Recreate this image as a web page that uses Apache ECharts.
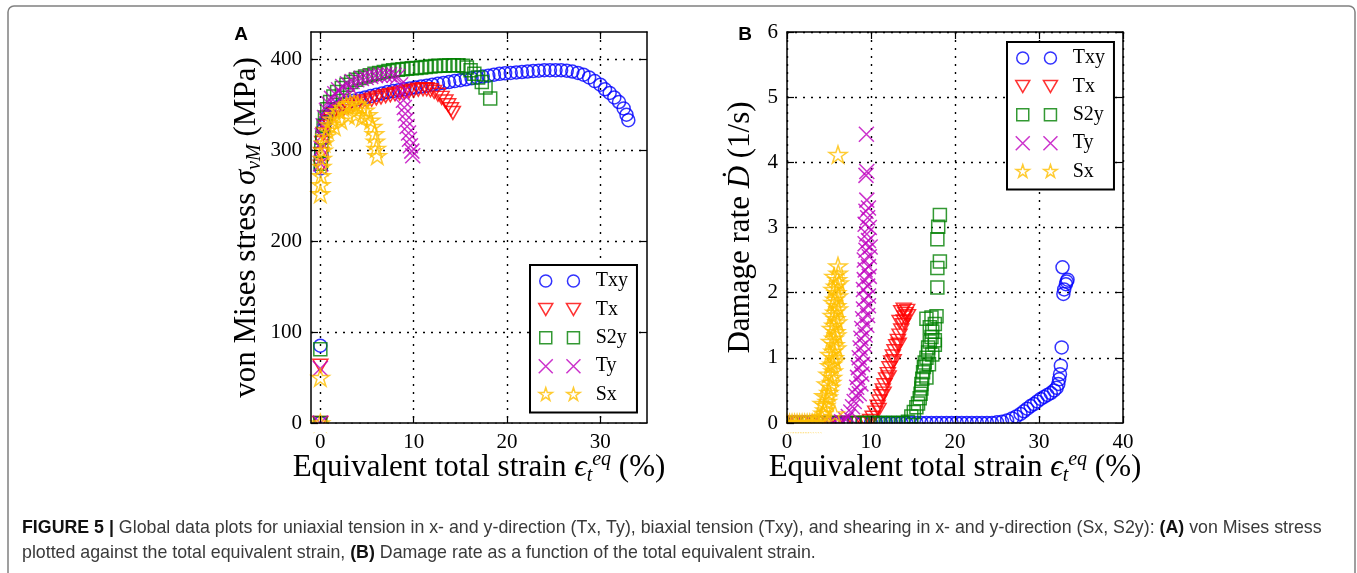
<!DOCTYPE html>
<html>
<head>
<meta charset="utf-8">
<script src="https://cdn.jsdelivr.net/npm/echarts@6.0.0/dist/echarts.min.js"></script>
<style>
  html, body { margin: 0; padding: 0; background: #fff; }
  #fig { width: 1357px; height: 573px; }
</style>
</head>
<body>
<div id="fig"></div>
<script>
var SERIF = '"Liberation Serif", "Times New Roman", serif';
var SANS = '"Liberation Sans", Arial, sans-serif';

// legend order = draw order
var seriesNames = ['Txy', 'Tx', 'S2y', 'Ty', 'Sx'];

// tick labels
var strainTicksA = [0, 10, 20, 30];
var stressTicks = [0, 100, 200, 300, 400];
var strainTicksB = [0, 10, 20, 30, 40];
var rateTicks = [0, 1, 2, 3, 4, 5, 6];

// (A) von Mises stress [strain %, MPa]
var stressTxy = [[0,0],[0,85],[0.05,280],[0.1,298],[0.2,312],[0.35,323],[0.55,331],[0.8,337],[1.1,341],[1.5,345],[2,348],[2.5,350.5],[3,352.5],[3.6,354.5],[4.2,356.5],[4.8,358],[5.4,359.5],[6,361],[6.6,362.5],[7.2,364],[7.8,365],[8.4,366],[9,367],[9.6,368],[10.2,369],[10.8,370],[11.4,371],[12,372],[12.6,373],[13.2,374],[13.8,375],[14.4,376],[15,377],[15.6,378],[16.2,379],[16.8,380],[17.4,381],[18,382],[18.6,383],[19.2,384],[19.8,384.5],[20.4,385],[21,385.5],[21.6,386],[22.2,386.5],[22.8,387],[23.4,387.5],[24,388],[24.6,388],[25.2,388],[25.8,388],[26.4,387.5],[27,386.5],[27.6,385],[28.2,383],[28.8,380],[29.4,376],[30,372],[30.5,367],[31,363],[31.5,358],[32,353],[32.5,346],[32.8,339],[33,333]];
var stressTx = [[0,0],[0,63],[0.05,282],[0.1,296],[0.2,308],[0.35,318],[0.55,326],[0.8,332],[1.1,336],[1.5,340],[2,343],[2.5,345.5],[3,347.5],[3.5,349.5],[4,351],[4.5,352.5],[5,354],[5.5,355.5],[6,357],[6.5,358],[7,359.5],[7.5,360.5],[8,361.5],[8.5,362.5],[9,363.5],[9.5,364.5],[10,365.5],[10.5,366.5],[11,367],[11.4,367],[11.8,366],[12.2,364],[12.6,361],[13,357.5],[13.4,353.5],[13.7,349.5],[14,345],[14.2,341]];
var stressS2y = [[0,0],[0,81],[0.05,285],[0.1,300],[0.2,314],[0.35,327],[0.5,336],[0.75,345],[1.05,353],[1.4,359],[1.8,364],[2.3,368.5],[2.8,372],[3.3,375],[3.8,377.5],[4.3,379.5],[4.8,381],[5.3,382.5],[5.8,384],[6.3,385],[6.8,386],[7.3,387],[7.8,388],[8.3,388.5],[8.8,389],[9.3,389.5],[9.8,390],[10.3,390.5],[10.8,391],[11.3,391.5],[11.8,392],[12.3,392.5],[12.8,393],[13.3,393],[13.8,393.5],[14.3,393.5],[14.8,393.5],[15.3,393],[15.7,391],[16.1,388],[16.5,384],[16.9,380],[17.3,375],[17.7,369],[18.2,357]];
var stressTy = [[0,0],[0,60],[0.05,285],[0.1,302],[0.2,316],[0.3,327],[0.45,336],[0.65,344],[0.9,351],[1.2,357],[1.55,362],[1.95,366.5],[2.4,370],[2.9,373],[3.4,375.5],[3.9,377.5],[4.4,379],[4.9,380],[5.4,381],[5.9,382],[6.4,382.5],[6.9,383],[7.4,383],[7.9,382.5],[8.3,381],[8.6,372],[8.8,363],[8.9,355],[9,347],[9.1,340],[9.2,333],[9.3,326],[9.45,319],[9.55,312],[9.65,305],[9.8,299],[9.9,294],[1.5,350],[2.5,360],[3.5,366]];
var stressSx = [[0,0],[0,50],[0,252],[0.05,262],[0.1,272],[0.15,282],[0.2,291],[0.3,300],[0.4,308],[0.55,315],[0.75,322],[1,328],[1.3,334],[1.6,339],[2,343.5],[2.4,347],[2.8,349.5],[3.2,351],[3.6,351.5],[4,350.5],[4.4,348],[4.8,344],[5.1,339],[5.4,333],[5.6,326],[5.8,318],[5.9,310],[6,302],[6.1,294],[1.5,326],[2.2,333],[3,338],[3.8,339],[4.5,336]];

// (B) damage rate [strain %, 1/s]
var rateTxy = [[0,0],[1,0],[2,0],[3,0],[4,0],[5,0],[6,0],[7,0],[8,0],[9,0],[10,0],[10.6,0],[11.2,0],[11.8,0],[12.4,0],[13,0],[13.6,0],[14.2,0],[14.8,0],[15.4,0],[16,0],[16.6,0],[17.2,0],[17.8,0],[18.4,0],[19,0],[19.6,0],[20.2,0],[20.8,0],[21.4,0],[22,0],[22.6,0],[23.2,0],[23.8,0],[24.4,0],[25,0.01],[25.6,0.02],[26.2,0.04],[26.8,0.07],[27.3,0.1],[27.8,0.14],[28.2,0.18],[28.6,0.22],[29,0.26],[29.4,0.29],[29.8,0.33],[30.2,0.37],[30.6,0.4],[31,0.43],[31.4,0.46],[31.8,0.5],[32.1,0.54],[32.3,0.6],[32.4,0.67],[32.5,0.75],[32.6,0.88],[32.7,1.16],[32.9,1.98],[33,2.05],[33.2,2.13],[33.4,2.2],[33.3,2.17],[32.8,2.39]];
var rateTx = [[0,0],[1,0],[2,0],[3,0],[4,0],[5,0],[6,0],[7,0],[8,0],[9,0],[9.5,0],[9.9,0.03],[10.2,0.08],[10.5,0.16],[10.8,0.25],[11,0.33],[11.2,0.41],[11.4,0.5],[11.6,0.58],[11.8,0.67],[12,0.75],[12.2,0.84],[12.4,0.93],[12.6,1.02],[12.8,1.1],[13,1.18],[13.2,1.26],[13.4,1.34],[13.6,1.42],[13.8,1.5],[13.9,1.56],[14,1.62],[14.1,1.67],[13.6,1.7],[14.3,1.72],[13.9,1.74],[14.4,1.64],[13.4,1.55],[10.9,0.2],[11.5,0.45],[12.1,0.7],[12.7,0.95],[13.3,1.2]];
var rateS2y = [[0,0],[1,0],[2,0],[3,0],[4,0],[5,0],[6,0],[7,0],[8,0],[9,0],[9.6,0],[10.2,0],[10.8,0],[11.4,0],[12,0],[12.6,0],[13.2,0],[13.8,0],[14.4,0.02],[14.8,0.1],[15.1,0.17],[15.4,0.24],[15.6,0.3],[15.8,0.38],[15.9,0.45],[16,0.53],[16,0.6],[16.1,0.68],[16.2,0.78],[16.3,0.86],[16.4,0.93],[16.6,1],[16.8,1.08],[16.8,1.16],[17.6,1.2],[17,1.25],[17.6,1.27],[17.2,1.32],[17.3,1.4],[17,1.47],[17.6,1.52],[16.6,1.6],[17.2,1.62],[17.8,1.64],[16.6,0.7],[16.9,0.9],[17.3,1.05],[17.9,2.08],[17.9,2.38],[18.2,2.48],[17.9,2.82],[18,3.01],[18.2,3.19]];
var rateTy = [[0,0],[1,0],[2,0],[3,0],[4,0],[5,0],[5.5,0],[6,0],[6.5,0.02],[7,0.05],[7.3,0.1],[7.6,0.17],[7.8,0.25],[8,0.33],[8.2,0.42],[8.6,0.45],[8.3,0.55],[8.8,0.6],[8.4,0.7],[8.9,0.75],[8.5,0.85],[9,0.9],[8.6,1],[9.1,1.05],[8.7,1.15],[9.2,1.2],[8.8,1.3],[9.3,1.35],[8.9,1.45],[9.5,1.5],[9,1.6],[9.6,1.65],[9.1,1.75],[9.7,1.8],[9.2,1.9],[9.7,1.95],[9.1,2.05],[9.6,2.1],[9.2,2.2],[9.8,2.25],[9.3,2.35],[9.7,2.4],[9.2,2.5],[9.8,2.55],[9.4,2.65],[9.9,2.7],[9.3,2.75],[9.7,2.8],[9.5,2.9],[9.8,3],[9.3,3.05],[9.6,3.15],[9.4,3.25],[9.7,3.3],[9.5,3.42],[9.4,3.8],[9.5,3.86],[9.45,4.43]];
var rateSx = [[0,0],[0.3,0],[0.6,0],[0.9,0],[1.2,0],[1.5,0],[1.8,0],[2.1,0],[2.4,0],[2.7,0],[3,0],[3.3,0],[3.6,0.02],[3.9,0.06],[4.1,0.1],[4.3,0.15],[4.5,0.2],[4.6,0.27],[4.8,0.33],[4.2,0.3],[4.9,0.4],[4.4,0.42],[5,0.47],[5.2,0.55],[4.7,0.6],[5.3,0.62],[5.4,0.7],[4.9,0.75],[5.5,0.8],[5.1,0.88],[5.4,0.9],[5.7,0.95],[5.6,1],[5.1,1.05],[5.5,1.1],[5.9,1.15],[5.7,1.2],[5.2,1.25],[5.6,1.3],[5.9,1.35],[5.8,1.4],[5.3,1.45],[5.6,1.5],[6,1.55],[5.8,1.6],[5.4,1.65],[5.7,1.7],[6.1,1.75],[5.9,1.8],[5.5,1.85],[5.7,1.9],[6.1,1.95],[5.9,2],[5.5,2.05],[5.8,2.1],[6.2,2.15],[6,2.2],[5.6,2.25],[6.1,2.3],[6.07,2.41],[5.7,0.14],[6.07,4.12]];

var stressData = [stressTxy, stressTx, stressS2y, stressTy, stressSx];
var rateData = [rateTxy, rateTx, rateS2y, rateTy, rateSx];

// marker look (matplotlib o v s x *)
var colors = ['#0000ff', '#ff0000', '#008000', '#bf00bf', '#ffbf00'];
var symbols = [
    'circle',
    'path://M0,0L10,0L5,8.66Z',
    'rect',
    'path://M0,0L10,10M10,0L0,10',
    'path://M10,0L12.245,6.91L19.511,6.91L13.633,11.18L15.878,18.09L10,13.82L4.122,18.09L6.367,11.18L0.489,6.91L7.755,6.91Z'
];
var symbolSizes = [13, [15, 13], 13, 15, [18, 17]];
// two markers per legend row, extra moveTo keeps space before the text
var legendIcons = [
    'path://M0,0M1,7A6,6,0,1,1,13,7A6,6,0,1,1,1,7ZM28.7,7A6,6,0,1,1,40.7,7A6,6,0,1,1,28.7,7ZM52,14',
    'path://M0,0M0,1L14,1L7,13ZM27.7,1L41.7,1L34.7,13ZM52,14',
    'path://M0,0M1,1L13,1L13,13L1,13ZM28.7,1L40.7,1L40.7,13L28.7,13ZM52,14',
    'path://M0,0L14,14M14,0L0,14M27.7,0L41.7,14M41.7,0L27.7,14M52,14',
    'path://M0,0M7,0L8.57,4.84L13.66,4.84L9.54,7.83L11.11,12.66L7,9.67L2.89,12.66L4.46,7.83L0.34,4.84L5.43,4.84ZM34.7,0L36.27,4.84L41.36,4.84L37.24,7.83L38.81,12.66L34.7,9.67L30.59,12.66L32.16,7.83L28.04,4.84L33.13,4.84ZM52,14'
];

var nameRich = {
    it: { fontFamily: SERIF, fontStyle: 'italic', fontSize: 31, lineHeight: 36, color: '#000' },
    sub: { fontFamily: SERIF, fontStyle: 'italic', fontSize: 20, lineHeight: 14, verticalAlign: 'bottom', color: '#000' },
    sup: { fontFamily: SERIF, fontStyle: 'italic', fontSize: 20, lineHeight: 12, verticalAlign: 'top', color: '#000' }
};

function makeAxis(gridIndex, position, min, max, ticks, main, name, nameGap) {
    return {
        type: 'value',
        gridIndex: gridIndex,
        position: position,
        min: min,
        max: max,
        z: main ? 10 : 1,
        axisLine: { show: true, onZero: false, lineStyle: { color: '#000', width: 1.5 } },
        axisTick: { show: true, inside: true, length: 7, customValues: ticks, lineStyle: { color: '#000', width: 1.2 } },
        axisLabel: { show: main, customValues: ticks, margin: 9, color: '#000', fontFamily: SERIF, fontSize: 21 },
        splitLine: { show: !main, lineStyle: { color: '#000', width: 1.4, type: [2, 6] } },
        axisPointer: { show: false },
        name: name || '',
        nameLocation: 'middle',
        nameGap: nameGap || 0,
        nameMoveOverlap: false,
        nameTextStyle: { fontFamily: SERIF, fontSize: 31, lineHeight: 36, color: '#000', rich: nameRich }
    };
}

function makeSeries(i, panel) {
    return {
        type: 'scatter',
        name: seriesNames[i],
        xAxisIndex: panel * 2,
        yAxisIndex: panel * 2,
        data: panel === 0 ? stressData[i] : rateData[i],
        symbol: symbols[i],
        symbolSize: symbolSizes[i],
        itemStyle: { color: 'rgba(0,0,0,0)', borderColor: colors[i], borderWidth: 1.5 },
        emphasis: { disabled: true },
        silent: true,
        clip: false,
        z: 2
    };
}

function makeLegend(left, top) {
    var items = [];
    for (var i = 0; i < seriesNames.length; i++) {
        items.push({
            name: seriesNames[i],
            icon: legendIcons[i],
            itemStyle: { color: 'rgba(0,0,0,0)', borderColor: colors[i], borderWidth: 1.5 }
        });
    }
    return {
        data: items,
        orient: 'vertical',
        left: left,
        top: top,
        itemWidth: 52,
        itemHeight: 14,
        itemGap: 8.4,
        padding: [6, 9, 8, 8],
        selectedMode: false,
        backgroundColor: '#fff',
        borderColor: '#000',
        borderWidth: 2,
        borderRadius: 0,
        textStyle: { fontFamily: SERIF, fontSize: 20, lineHeight: 20, color: '#000' }
    };
}

var strainName = 'Equivalent total strain {it|ϵ}{sub|t}{sup|eq} (%)';

var series = [];
for (var p = 0; p < 2; p++) {
    for (var i = 0; i < seriesNames.length; i++) series.push(makeSeries(i, p));
}

var option = {
    animation: false,
    backgroundColor: '#fff',
    textStyle: { fontFamily: SERIF },
    grid: [
        { left: 311, top: 32, width: 336, height: 391, outerBoundsMode: 'none' },
        { left: 787, top: 32, width: 336, height: 391, outerBoundsMode: 'none' }
    ],
    xAxis: [
        makeAxis(0, 'bottom', -1, 35, strainTicksA, true, strainName, 27),
        makeAxis(0, 'top', -1, 35, strainTicksA, false),
        makeAxis(1, 'bottom', 0, 40, strainTicksB, true, strainName, 27),
        makeAxis(1, 'top', 0, 40, strainTicksB, false)
    ],
    yAxis: [
        makeAxis(0, 'left', 0, 430, stressTicks, true, 'von Mises stress {it|σ}{sub|vM} (MPa)', 46),
        makeAxis(0, 'right', 0, 430, stressTicks, false),
        makeAxis(1, 'left', 0, 6, rateTicks, true, 'Damage rate {it|Ḋ} (1/s)', 28),
        makeAxis(1, 'right', 0, 6, rateTicks, false)
    ],
    legend: [makeLegend(530, 265), makeLegend(1007, 42)],
    series: series,
    graphic: [
        { type: 'rect', z: 0, silent: true, shape: { x: 8, y: 6, width: 1347, height: 590, r: 6 }, style: { fill: 'none', stroke: '#808080', lineWidth: 1.5 } },
        // matplotlib clips markers at the frame
        { type: 'rect', z: 5, silent: true, shape: { x: 300, y: 423.6, width: 360, height: 9 }, style: { fill: '#fff' } },
        { type: 'rect', z: 5, silent: true, shape: { x: 775, y: 423.6, width: 360, height: 9 }, style: { fill: '#fff' } },
        { type: 'rect', z: 5, silent: true, shape: { x: 772, y: 20, width: 14.2, height: 413 }, style: { fill: '#fff' } },
        { type: 'text', z: 6, silent: true, x: 241, y: 35, style: { text: 'A', fontFamily: SANS, fontWeight: 'bold', fontSize: 19, fill: '#000', align: 'center', verticalAlign: 'middle' } },
        { type: 'text', z: 6, silent: true, x: 745, y: 35, style: { text: 'B', fontFamily: SANS, fontWeight: 'bold', fontSize: 19, fill: '#000', align: 'center', verticalAlign: 'middle' } },
        {
            type: 'text', z: 6, silent: true, x: 22, y: 528,
            style: {
                text: '{b|FIGURE 5 |} Global data plots for uniaxial tension in x- and y-direction (Tx, Ty), biaxial tension (Txy), and shearing in x- and y-direction (Sx, S2y): {b|(A)} von Mises stress',
                fontFamily: SANS, fontSize: 17.8, fill: '#3a3a3a', verticalAlign: 'middle',
                rich: { b: { fontFamily: SANS, fontSize: 17.8, fontWeight: 'bold', fill: '#111' } }
            }
        },
        {
            type: 'text', z: 6, silent: true, x: 22, y: 553,
            style: {
                text: 'plotted against the total equivalent strain, {b|(B)} Damage rate as a function of the total equivalent strain.',
                fontFamily: SANS, fontSize: 17.8, fill: '#3a3a3a', verticalAlign: 'middle',
                rich: { b: { fontFamily: SANS, fontSize: 17.8, fontWeight: 'bold', fill: '#111' } }
            }
        }
    ]
};

var chart = echarts.init(document.getElementById('fig'), null, { renderer: 'canvas' });
chart.setOption(option);
</script>
</body>
</html>
